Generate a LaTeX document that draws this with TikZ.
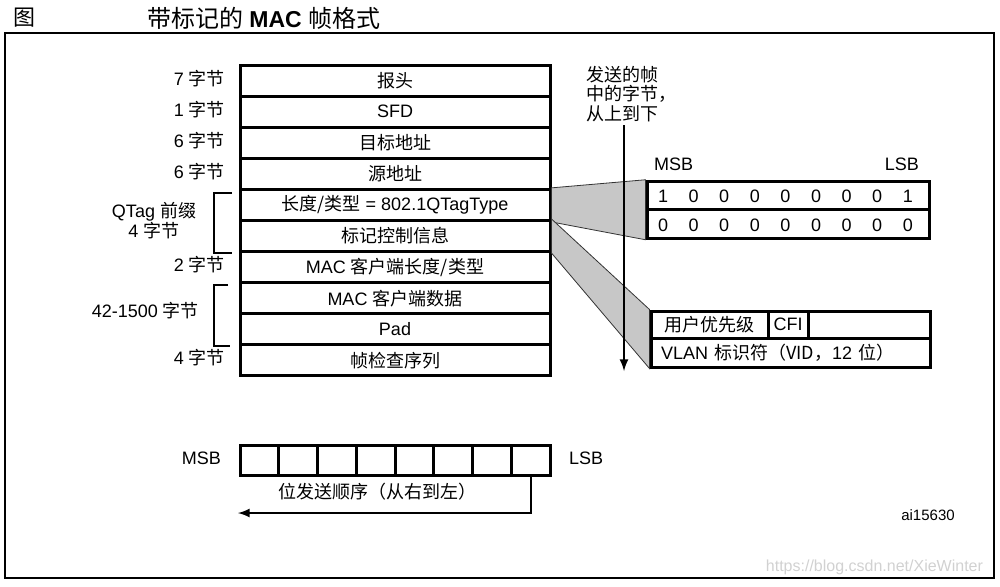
\documentclass[tikz,border=0pt]{standalone}
\usepackage{fontspec}
\setmainfont{Liberation Sans}
\newfontfamily\cjk{Noto Sans CJK SC}
\newcommand\zh[1]{{\cjk #1}}
\newcommand\titlezh[1]{{\cjk\fontsize{12}{13}\selectfont #1}}
\tikzset{
  field/.style={draw,line width=1.5pt,minimum width=155pt,minimum height=15.55pt,inner sep=0pt},
  bytes/.style={anchor=east},
  bitrow/.style={draw,line width=1.5pt,minimum width=141pt,minimum height=14.25pt,inner sep=0pt},
  bitcell/.style={draw,line width=1.5pt,minimum width=19.375pt,minimum height=15pt,inner sep=0pt},
  wedge/.style={fill=black!22,draw=black!80,line width=0.4pt},
}
\begin{document}
\begin{tikzpicture}[x=0.5pt,y=-0.5pt,>=latex,font=\fontsize{9}{10}\selectfont]
  \useasboundingbox (0,0) rectangle (1000,586);
  \draw[line width=0.8pt] (5,33) rectangle (994,578);
  % title
  \node[anchor=west,font=\fontsize{11}{12}\selectfont] (fig) at (6,18) {\zh{图}};
  \node[anchor=west,font=\fontsize{11.5}{13}\selectfont] (title) at (140,18)
    {\titlezh{带标记的} \textbf{MAC} \titlezh{帧格式}};
  % the frame
  \node[field] (f1) at (395,80.6) {\zh{报头}};
  \node[field] (f2) at (395,111.7) {SFD};
  \node[field] (f3) at (395,142.7) {\zh{目标地址}};
  \node[field] (f4) at (395,173.8) {\zh{源地址}};
  \node[field] (f5) at (395,204.9) {\zh{长度/类型} = 802.1QTagType};
  \node[field] (f6) at (395,236.0) {\zh{标记控制信息}};
  \node[field] (f7) at (395,267.1) {MAC \zh{客户端长度/类型}};
  \node[field] (f8) at (395,298.2) {MAC \zh{客户端数据}};
  \node[field] (f9) at (395,329.3) {Pad};
  \node[field] (f10) at (395,360.4) {\zh{帧检查序列}};
  % byte counts
  \node[bytes] (n1) at (232,79) {7 \zh{字节}};
  \node[bytes] (n2) at (232,110) {1 \zh{字节}};
  \node[bytes] (n3) at (232,141) {6 \zh{字节}};
  \node[bytes] (n4) at (232,172) {6 \zh{字节}};
  \node[bytes] (n7) at (232,265) {2 \zh{字节}};
  \node[bytes] (n10) at (232,358) {4 \zh{字节}};
  \node[align=center] (qtag) at (154,221) {QTag \zh{前缀}\\4 \zh{字节}};
  \node[bytes] (data) at (206,311) {42-1500 \zh{字节}};
  \draw[line width=1pt] (232,193) -- (214,193) -- (214,253) -- (232,253);
  \draw[line width=1pt] (228,285) -- (214,285) -- (214,346) -- (230,346);
  % tag type and tag control
  \node[bitrow] (tpid1) at (788,195.5) {};
  \node[bitrow] (tpid2) at (788,224) {};
  \node[draw,line width=1.5pt,minimum width=139.5pt,minimum height=28pt,inner sep=0pt] (tci) at (790.5,339) {};
  \fill[wedge] (f5.north east) -- (tpid1.north west) -- (tpid2.south west) -- (f5.south east) -- cycle;
  \fill[wedge] (f6.north east) -- (tci.north west) -- (tci.south west) -- (f6.south east) -- cycle;
  \node[bitrow] at (tpid1) {};
  \node[bitrow] at (tpid2) {};
  \foreach \b [count=\k from 0] in {1,0,0,0,0,0,0,0,1}
    \node (hi\k) at (663+30.6*\k,196) {\b};
  \foreach \b [count=\k from 0] in {0,0,0,0,0,0,0,0,0}
    \node (lo\k) at (663+30.6*\k,225) {\b};
  \node[anchor=west] (msb1) at (647,164) {MSB};
  \node[anchor=east] (lsb1) at (926,164) {LSB};
  \node[draw,line width=1.5pt,minimum width=139.5pt,minimum height=28pt,inner sep=0pt] at (tci) {};
  \node[draw,line width=1.5pt,minimum width=58.5pt,minimum height=13.5pt,inner sep=0pt] (pri) at (709.5,324.5) {\zh{用户优先级}};
  \node[draw,line width=1.5pt,minimum width=20pt,minimum height=13.5pt,inner sep=0pt] (cfi) at (788,324.5) {CFI};
  \node[draw,line width=1.5pt,text width=129.5pt,inner xsep=5pt,inner ysep=0pt,minimum height=14.5pt,align=left] (vid) at (790.5,352.5)
    {VLAN \zh{标识符（VID，}12 \zh{位）}};
  % byte order
  \coordinate (down0) at (624,125);
  \coordinate (down1) at (624,371);
  \draw[->,line width=1pt] (down0) -- (down1);
  \node[anchor=north west,align=left,font=\fontsize{9}{9.6}\selectfont,inner sep=0pt] (order) at (586,66)
    {\zh{发送的帧}\\\zh{中的字节，}\\\zh{从上到下}};
  % bit order
  \foreach \k in {1,...,8}
    \node[bitcell] (c\k) at (240+38.75*\k-19.375,460) {};
  \node[anchor=east] (msb2) at (228,458) {MSB};
  \node[anchor=west] (lsb2) at (562,458) {LSB};
  \coordinate (left) at (238,513);
  \draw[->,line width=1pt] (c8.south) |- (left);
  \node (bitorder) at (377,492) {\zh{位发送顺序（从右到左）}};
  \node[font=\fontsize{7.5}{8}\selectfont] (ref) at (928,515) {ai15630};
  \node[anchor=east,text=black!18,font=\fontsize{8}{9}\selectfont] (url) at (990,567) {https://blog.csdn.net/XieWinter};
\end{tikzpicture}
\end{document}
